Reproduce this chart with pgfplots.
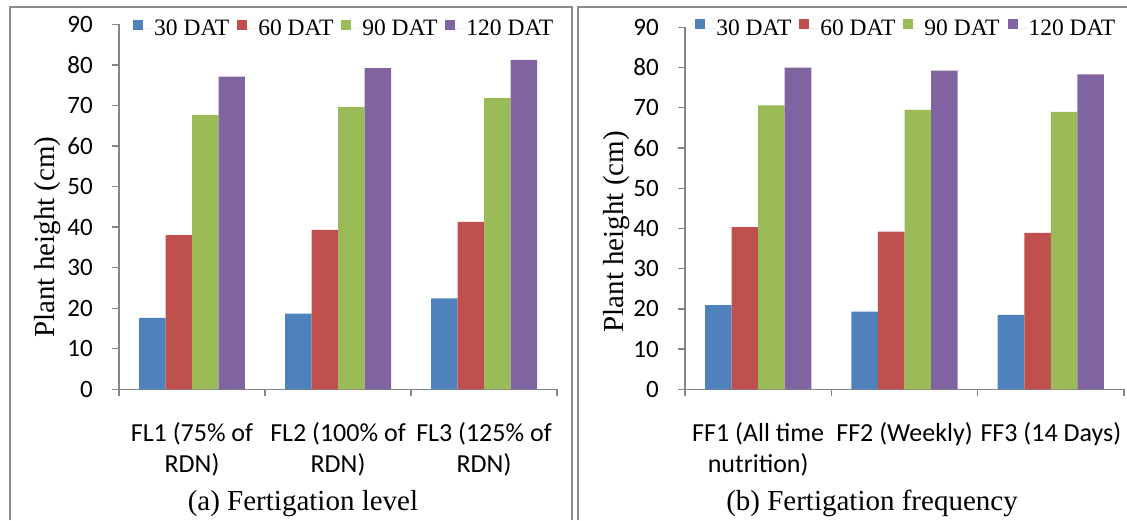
\documentclass[border=0pt]{standalone}
\usepackage{fontspec}
\setmainfont{Liberation Serif}
\newfontfamily\calibri{Carlito}
\usepackage{pgfplots}
\pgfplotsset{compat=1.18}
\definecolor{cBlue}{HTML}{4F81BD}
\definecolor{cRed}{HTML}{C0504D}
\definecolor{cGreen}{HTML}{9BBB59}
\definecolor{cPurple}{HTML}{8064A2}
\definecolor{axgray}{HTML}{868686}
\definecolor{framegray}{HTML}{8C8C8C}

\pgfplotsset{
 panel/.style={
  scale only axis, width=438pt, height=365pt,
  xmin=0.5, xmax=3.5, ymin=0, ymax=90,
  ybar=0pt, bar width=0.1815,
  axis x line*=bottom, axis y line*=left,
  axis line style={draw=axgray, line width=1.3pt},
  tick style={draw=axgray, line width=1.3pt},
  tick align=outside,
  ytick={0,10,...,90},
  xtick={1,2,3},
  minor xtick={0.5,1.5,2.5,3.5},
  major x tick style={draw=none},
  major tick length=7pt, minor tick length=7pt,
  /pgf/number format/assume math mode=true,
  yticklabel style={font=\calibri\fontsize{25}{25}\selectfont, inner sep=0pt, xshift=-19pt},
  xticklabel style={font=\calibri\fontsize{26}{31}\selectfont, align=center, inner sep=0pt, yshift=-26pt},
  legend style={legend columns=4, draw=none, fill=none, inner sep=0pt,
    nodes={inner sep=0pt},
    font=\fontsize{23.5}{24}\selectfont,
    /tikz/every even column/.append style={column sep=8pt}},
  legend image code/.code={\fill[##1] (0pt,-1pt) rectangle (10pt,9pt); \path (0pt,0pt) -- (21pt,0pt);},
  ylabel={Plant height (cm)},
  ylabel style={font=\fontsize{29}{30}\selectfont, anchor=center},
  xlabel style={font=\fontsize{29}{30}\selectfont, anchor=base},
 }
}

\begin{document}
\begin{tikzpicture}
\path[use as bounding box] (0,0) rectangle (1127pt,520pt);
\fill[white] (0,0) rectangle (1127pt,520pt);
\draw[framegray, line width=2pt] (10pt,0pt) |- (572pt,513pt) -- (572pt,0pt);
\draw[framegray, line width=2pt] (578pt,0pt) |- (1140pt,513pt);

\begin{axis}[panel, at={(119pt,130.7pt)}, anchor=south west,
  xticklabels={{FL1 (75\% of\\RDN)},{FL2 (100\% of\\RDN)},{FL3 (125\% of\\RDN)}},
  ylabel style={at={(axis description cs:-0.164,0.417)}},
  xlabel={(a) Fertigation level},
  xlabel style={at={(axis description cs:0.42,-0.331)}},
  legend style={at={(axis description cs:0.032,0.989)}, anchor=west}]
\addplot[fill=cBlue, draw=none] coordinates {(1,17.6) (2,18.65) (3,22.4)};
\addplot[fill=cRed, draw=none] coordinates {(1,38.0) (2,39.3) (3,41.3)};
\addplot[fill=cGreen, draw=none] coordinates {(1,67.6) (2,69.6) (3,71.8)};
\addplot[fill=cPurple, draw=none] coordinates {(1,77.1) (2,79.2) (3,81.2)};
\legend{30 DAT,60 DAT,90 DAT,120 DAT}
\end{axis}

\begin{axis}[panel, at={(685pt,130.7pt)}, anchor=south west, width=439pt, height=362pt,
  xticklabels={{FF1 (All time\\nutrition)},{FF2 (Weekly)},{FF3 (14 Days)}},
  ylabel style={at={(axis description cs:-0.155,0.435)}},
  xlabel={(b) Fertigation frequency},
  xlabel style={at={(axis description cs:0.426,-0.334)}},
  legend style={at={(axis description cs:0.023,0.998)}, anchor=west}]
\addplot[fill=cBlue, draw=none] coordinates {(1,20.9) (2,19.3) (3,18.5)};
\addplot[fill=cRed, draw=none] coordinates {(1,40.3) (2,39.2) (3,38.9)};
\addplot[fill=cGreen, draw=none] coordinates {(1,70.6) (2,69.5) (3,69.0)};
\addplot[fill=cPurple, draw=none] coordinates {(1,80.0) (2,79.2) (3,78.3)};
\legend{30 DAT,60 DAT,90 DAT,120 DAT}
\end{axis}
\end{tikzpicture}
\end{document}
